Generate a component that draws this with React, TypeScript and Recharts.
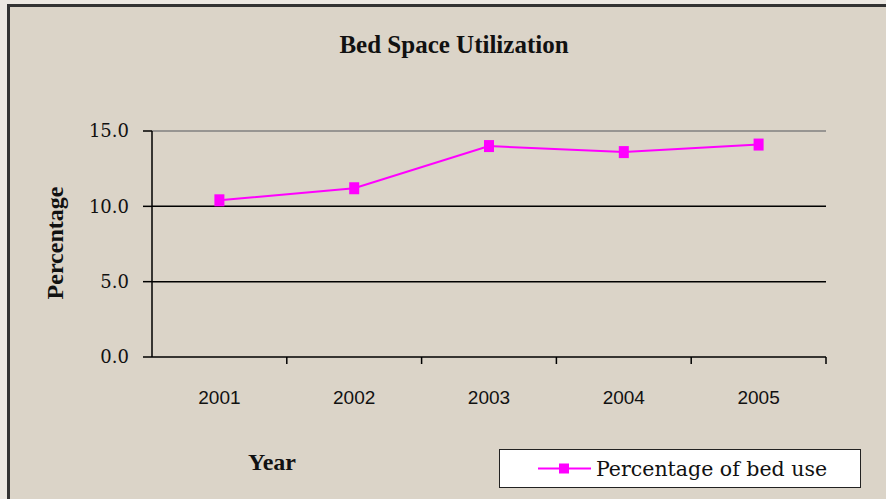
import React from 'react'
import { LineChart, Line, XAxis, YAxis, CartesianGrid, ReferenceLine } from 'recharts'

const years = ['2001', '2002', '2003', '2004', '2005']
const bedUse = [10.4, 11.2, 14.0, 13.6, 14.1]
const yTicks = [0, 5, 10, 15]
const seriesName = 'Percentage of bed use'

const data = years.map((year, i) => ({ year, value: bedUse[i] }))

const BG = '#dbd4c8'
const MAGENTA = '#ff00ff'
const SERIF = '"Liberation Serif", "Times New Roman", serif'

function YearTick(props: any) {
  const { x, y, payload } = props
  const half = payload.offset || 0
  return (
    <g>
      <line x1={x + half} x2={x + half} y1={y} y2={y + 7} stroke="#000" strokeWidth={1.5} />
      <text
        x={x}
        y={y + 42}
        textAnchor="middle"
        dominantBaseline="middle"
        fill="#111"
        fontSize={19}
        fontFamily='"Liberation Sans", Arial, sans-serif'
      >
        {payload.value}
      </text>
    </g>
  )
}

function SquareDot(props: any) {
  const { cx, cy, index } = props
  return <rect key={index} x={cx - 5} y={cy - 6} width={10} height={12} fill={MAGENTA} />
}

function LegendBox() {
  return (
    <div
      style={{
        position: 'absolute',
        left: 499,
        top: 449,
        width: 362,
        height: 39,
        background: '#fff',
        border: '1px solid #222',
        display: 'flex',
        alignItems: 'center',
        boxSizing: 'border-box',
      }}
    >
      <svg width={96} height={37}>
        <line x1={38} x2={91} y1={18.5} y2={18.5} stroke={MAGENTA} strokeWidth={2} />
        <rect x={59} y={13.5} width={10} height={10} fill={MAGENTA} />
      </svg>
      <span style={{ fontFamily: '"DejaVu Serif", serif', fontSize: 20.5, color: '#111', whiteSpace: 'nowrap' }}>
        {seriesName}
      </span>
    </div>
  )
}

export default function App() {
  return (
    <div style={{ position: 'absolute', left: 0, top: 0, width: 886, height: 499, background: '#ece8e2', overflow: 'hidden' }}>
      <div
        style={{
          position: 'absolute',
          left: 7,
          top: 4,
          width: 886,
          height: 492,
          background: BG,
          borderLeft: '3px solid #333',
          borderTop: '3px solid #333',
        }}
      />
      <div style={{ position: 'absolute', left: 0, top: 0 }}>
        <LineChart width={886} height={499} data={data} margin={{ top: 131, right: 60, bottom: 82, left: 92 }}>
          <CartesianGrid horizontal vertical={false} horizontalValues={[5, 10]} stroke="#000" strokeWidth={1.5} />
          <XAxis
            dataKey="year"
            scale="band"
            height={60}
            axisLine={{ stroke: '#000', strokeWidth: 1.5 }}
            tickLine={false}
            tickSize={0}
            tickMargin={0}
            tick={<YearTick />}
            interval={0}
          />
          <YAxis
            domain={[0, 15]}
            ticks={yTicks}
            width={60}
            tickFormatter={(v: number) => v.toFixed(1)}
            tick={{ fill: '#111', fontSize: 18, fontFamily: '"DejaVu Serif", serif' }}
            tickLine={{ stroke: '#000', strokeWidth: 1.5 }}
            tickSize={9}
            tickMargin={14}
            axisLine={{ stroke: '#000', strokeWidth: 1.5 }}
          />
          <YAxis
            yAxisId="r"
            orientation="right"
            domain={[0, 15]}
            width={0}
            tick={false}
            tickLine={false}
            axisLine={{ stroke: '#808080', strokeWidth: 1.5 }}
          />
          <ReferenceLine y={15} stroke="#808080" strokeWidth={1.5} />
          <Line
            dataKey="value"
            name={seriesName}
            stroke={MAGENTA}
            strokeWidth={2}
            dot={<SquareDot />}
            isAnimationActive={false}
          />
        </LineChart>
      </div>
      <LegendBox />
      <div
        style={{
          position: 'absolute',
          left: 454,
          top: 45,
          transform: 'translate(-50%, -50%)',
          fontFamily: SERIF,
          fontWeight: 'bold',
          fontSize: 25,
          color: '#111',
          whiteSpace: 'nowrap',
        }}
      >
        Bed Space Utilization
      </div>
      <div
        style={{
          position: 'absolute',
          left: 55,
          top: 243,
          transform: 'translate(-50%, -50%) rotate(-90deg)',
          fontFamily: SERIF,
          fontWeight: 'bold',
          fontSize: 24,
          color: '#111',
          whiteSpace: 'nowrap',
        }}
      >
        Percentage
      </div>
      <div
        style={{
          position: 'absolute',
          left: 272,
          top: 462,
          transform: 'translate(-50%, -50%)',
          fontFamily: SERIF,
          fontWeight: 'bold',
          fontSize: 24,
          color: '#111',
        }}
      >
        Year
      </div>
    </div>
  )
}
